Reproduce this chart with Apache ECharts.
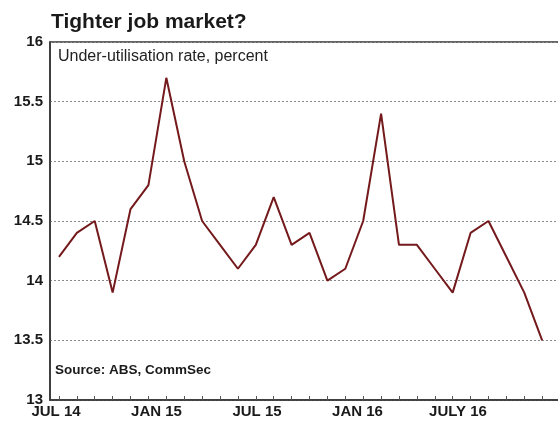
<!DOCTYPE html>
<html>
<head>
<meta charset="utf-8">
<script src="https://cdn.jsdelivr.net/npm/echarts@6/dist/echarts.min.js"></script>
<style>
  html, body { margin: 0; padding: 0; background: #fff; }
  #chart { width: 558px; height: 421px; }
</style>
</head>
<body>
<div id="chart"></div>
<script>
// Monthly under-utilisation rate, July 2014 to October 2016 (one spare slot after)
const months = [
  'Jul 14', 'Aug 14', 'Sep 14', 'Oct 14', 'Nov 14', 'Dec 14',
  'Jan 15', 'Feb 15', 'Mar 15', 'Apr 15', 'May 15', 'Jun 15',
  'Jul 15', 'Aug 15', 'Sep 15', 'Oct 15', 'Nov 15', 'Dec 15',
  'Jan 16', 'Feb 16', 'Mar 16', 'Apr 16', 'May 16', 'Jun 16',
  'Jul 16', 'Aug 16', 'Sep 16', 'Oct 16', 'Nov 16'
];
const underUtilisation = [
  14.2, 14.4, 14.5, 13.9, 14.6, 14.8,
  15.7, 15.0, 14.5, 14.3, 14.1, 14.3,
  14.7, 14.3, 14.4, 14.0, 14.1, 14.5,
  15.4, 14.3, 14.3, 14.1, 13.9, 14.4,
  14.5, 14.2, 13.9, 13.5
];
const periodLabels = ['JUL 14', 'JAN 15', 'JUL 15', 'JAN 16', 'JULY 16'];
const yMin = 13;
const yMax = 16;
const yStep = 0.5;

const FONT = '"Liberation Sans", Arial, sans-serif';
const INK = '#1a1a1a';

const chart = echarts.init(document.getElementById('chart'), null, { renderer: 'canvas' });

chart.setOption({
  animation: false,
  backgroundColor: '#ffffff',
  title: {
    text: 'Tighter job market?',
    left: 51,
    top: 12,
    padding: 0,
    textStyle: { fontFamily: FONT, fontSize: 21, fontWeight: 'bold', color: INK }
  },
  grid: [
    {
      left: 50, top: 42, width: 519, height: 358,
      show: true, borderColor: '#333333', borderWidth: 1.5,
      containLabel: false, outerBoundsMode: 'none'
    },
    {
      left: 5.75, top: 42, width: 502.5, height: 358,
      show: false, containLabel: false, outerBoundsMode: 'none'
    }
  ],
  xAxis: [
    {
      gridIndex: 0,
      type: 'category',
      data: months,
      boundaryGap: true,
      axisLine: { show: true, lineStyle: { color: '#333333', width: 1.5 } },
      axisTick: {
        show: true, inside: true, alignWithLabel: true, interval: 0,
        length: 4, lineStyle: { color: '#555555', width: 1 }
      },
      axisLabel: { show: false },
      splitLine: { show: false }
    },
    {
      gridIndex: 1,
      type: 'category',
      data: periodLabels,
      boundaryGap: true,
      axisLine: { show: false },
      axisTick: { show: false },
      axisLabel: {
        interval: 0, margin: 4,
        fontFamily: FONT, fontSize: 15, fontWeight: 'bold', color: INK
      },
      splitLine: { show: false }
    }
  ],
  yAxis: [
    {
      gridIndex: 0,
      type: 'value',
      min: yMin, max: yMax, interval: yStep,
      axisLine: { show: true, lineStyle: { color: '#333333', width: 1.5 } },
      axisTick: { show: false },
      axisLabel: {
        margin: 7,
        fontFamily: FONT, fontSize: 15, fontWeight: 'bold', color: INK
      },
      splitLine: { show: true, lineStyle: { color: '#8a8a8a', width: 1, type: [2, 2] } }
    },
    {
      gridIndex: 1,
      type: 'value',
      min: 0, max: 1,
      show: false
    }
  ],
  series: [
    {
      name: 'Under-utilisation rate',
      type: 'line',
      xAxisIndex: 0,
      yAxisIndex: 0,
      data: underUtilisation,
      symbol: 'none',
      lineStyle: { color: '#74191c', width: 2 },
      z: 3
    }
  ],
  graphic: [
    {
      type: 'text',
      left: 58,
      top: 49,
      style: {
        text: 'Under-utilisation rate, percent',
        fontFamily: FONT, fontSize: 16, fill: '#222222'
      }
    },
    {
      type: 'text',
      left: 55,
      top: 363,
      style: {
        text: 'Source: ABS, CommSec',
        fontFamily: FONT, fontSize: 13.5, fontWeight: 'bold', fill: INK
      }
    }
  ]
});
</script>
</body>
</html>
